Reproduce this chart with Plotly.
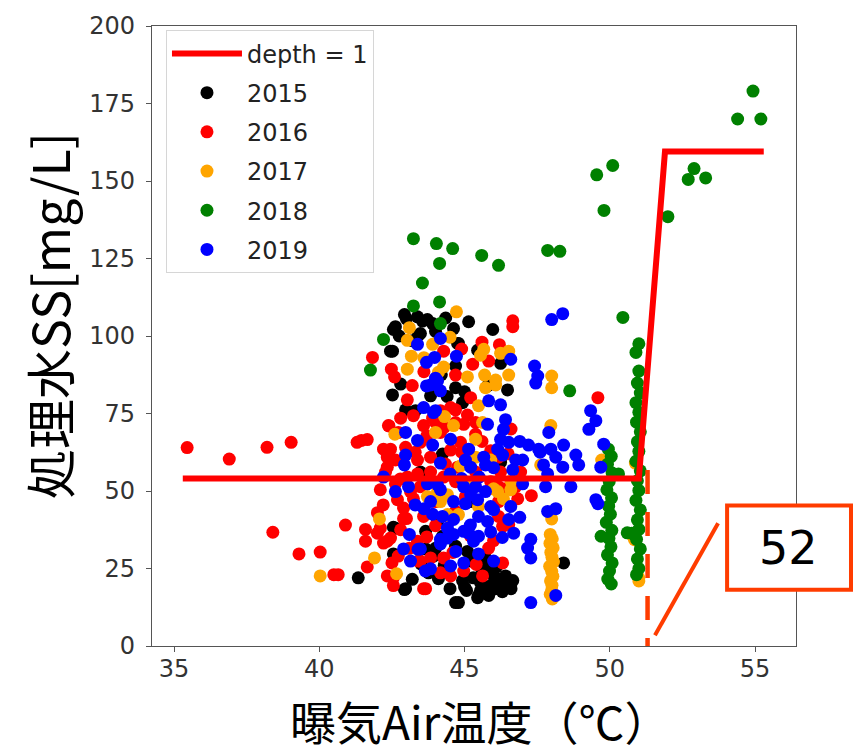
import plotly.graph_objects as go

# ---------------- data ----------------
years = ["2015", "2016", "2017", "2018", "2019"]
year_colors = ["#000000", "#ff0000", "#ffa500", "#008000", "#0000ff"]

pts_2015 = [
    (42.93, 106.9), (43.38, 106.2), (43.72, 105.3), (42.55, 102.1), (42.45, 95.1), (43.48, 100.8),
    (44.62, 102.4), (44.76, 97.6), (42.62, 103.0), (43.41, 100.2), (42.52, 95.1),
    (45.14, 104.6), (45.97, 102.1), (44.79, 97.6), (45.45, 95.4), (44.69, 90.3), (46.24, 91.2),
    (42.52, 81.0), (42.97, 76.2), (43.31, 75.9), (43.83, 80.7), (44.69, 83.3), (44.93, 78.5), (46.48, 82.6),
    (41.34, 22.0), (42.93, 18.2), (42.55, 38.3), (42.62, 38.0), (42.55, 29.7), (42.97, 18.5), (43.66, 37.0),
    (44.07, 40.2), (43.93, 29.0), (43.76, 23.6), (44.10, 21.7), (44.69, 14.0), (44.24, 35.4), (43.66, 31.3),
    (44.69, 32.2), (44.93, 21.1), (45.55, 20.4), (46.00, 22.6), (46.48, 20.1), (46.07, 18.5), (45.48, 16.3),
    (45.83, 16.3), (44.79, 14.0), (48.41, 26.8),
    (45.45, 15.6), (46.14, 21.7), (44.24, 61.9), (46.24, 59.3), (43.48, 56.1), (45.21, 46.6),
    (46.24, 20.1), (46.41, 22.6), (46.66, 21.1), (45.90, 24.2), (45.21, 27.4), (45.72, 25.8), (45.07, 17.9),
    (45.55, 17.9),
    (43.0, 105.5), (43.55, 104.8), (43.9, 104.0), (42.75, 100.0), (43.2, 98.5), (44.35, 105.8), (44.0, 101.5),
    (45.0, 19.0), (45.3, 22.0), (45.6, 24.5), (46.1, 25.5), (46.3, 17.5), (45.9, 19.5), (46.6, 18.5),
    (44.5, 18.5), (43.2, 21.5), (43.5, 26.5), (44.3, 26.0), (44.0, 31.5), (45.1, 30.5), (45.7, 28.8),
    (44.4, 80.5), (45.0, 82.0), (44.2, 87.5), (42.8, 84.5), (45.8, 84.0),
]

pts_2016 = [
    (35.45, 64.0), (36.9, 60.3), (38.2, 64.1), (39.03, 65.7), (38.4, 36.7), (39.3, 29.7), (40.03, 30.3),
    (40.5, 23.0), (40.65, 23.0), (40.9, 39.0), (41.3, 65.7), (41.65, 66.6), (41.65, 25.5), (42.4, 71.0),
    (41.83, 93.1), (42.48, 89.3), (42.59, 86.8), (44.28, 95.1), (44.69, 87.4), (46.66, 104.9), (46.66, 103.0),
    (45.28, 90.9), (45.83, 91.9),
    (43.03, 79.4), (42.38, 71.1), (43.59, 71.1), (41.45, 66.3), (42.21, 63.5), (42.34, 60.9), (42.62, 60.0),
    (43.38, 60.0), (43.83, 60.9), (44.52, 63.2), (42.34, 57.7), (43.38, 55.5), (44.28, 54.5), (43.03, 54.5),
    (43.48, 51.4), (44.76, 57.7), (42.10, 50.4),
    (44.69, 76.2), (44.97, 71.5), (45.38, 68.3), (49.59, 80.1), (46.17, 60.9),
    (42.45, 63.5), (42.79, 53.9), (42.55, 22.0), (43.00, 41.1), (42.34, 33.8), (43.59, 18.5), (43.41, 27.4),
    (43.24, 74.3),
    (41.59, 37.6), (41.59, 33.8), (42.00, 36.4), (42.21, 33.2), (42.10, 38.0), (42.45, 34.8), (42.34, 22.6),
    (42.55, 19.5), (43.66, 18.5), (42.90, 41.1), (42.72, 29.0), (43.38, 33.8), (43.83, 28.4), (44.28, 28.4),
    (44.17, 23.6), (42.69, 47.2), (43.24, 47.5), (43.59, 41.8), (44.52, 22.6), (43.48, 27.4),
    (44.69, 43.4), (45.83, 31.6), (46.31, 26.8), (45.62, 22.6), (44.97, 24.2), (46.31, 38.6),
    (44.17, 68.9), (44.86, 65.7), (45.21, 60.9), (44.69, 53.0), (45.03, 48.2), (44.00, 46.6), (43.14, 49.8),
    (42.62, 52.3), (43.83, 56.1), (44.34, 58.7), (45.38, 56.1), (45.90, 53.0), (46.24, 56.1), (46.41, 50.7),
    (46.76, 51.4), (43.48, 65.7), (42.97, 64.1), (42.28, 56.1), (42.72, 68.9), (44.00, 72.1), (44.52, 76.9),
    (45.21, 80.1), (45.38, 72.1), (44.69, 72.1), (44.17, 75.9), (46.93, 56.1),
    (46.17, 51.4), (46.17, 46.6), (46.17, 41.8), (46.52, 39.2), (46.83, 47.5),
    (42.8, 37.5), (43.1, 31.5), (42.5, 26.8), (43.7, 35.2), (44.0, 38.8), (44.6, 30.2), (45.2, 35.5),
    (45.4, 26.3), (46.0, 34.0), (42.0, 43.0), (42.9, 44.5), (43.3, 62.5), (43.7, 67.8), (44.3, 70.5),
    (44.9, 62.5), (45.6, 66.0), (45.1, 74.5), (43.9, 73.5), (42.8, 73.5), (43.2, 84.0), (43.6, 88.5),
    (44.9, 95.8), (45.6, 98.0), (46.2, 97.2), (45.9, 63.0), (46.5, 62.0), (46.6, 70.0), (47.3, 48.5),
    (42.2, 45.5),
]

pts_2017 = [
    (40.03, 22.6), (42.07, 41.0), (41.90, 28.4), (42.66, 23.3), (42.6, 68.3),
    (44.72, 107.8), (43.10, 102.7), (43.03, 98.6), (43.17, 93.5), (43.03, 89.3), (43.90, 97.3), (44.28, 90.0),
    (45.66, 95.7), (45.55, 93.8), (46.24, 94.4), (46.52, 95.1), (45.10, 86.8), (45.69, 87.4), (46.07, 85.8),
    (46.52, 87.4), (48.00, 87.1),
    (44.31, 74.0), (44.00, 68.9), (44.62, 71.1), (44.41, 48.8), (43.72, 48.2),
    (45.72, 83.3), (46.07, 84.2), (48.00, 83.3), (45.48, 77.5), (45.62, 72.1), (45.38, 66.7), (47.97, 71.1),
    (47.62, 58.4), (45.38, 60.9), (45.90, 60.0), (46.59, 50.4), (46.14, 49.8),
    (44.17, 46.6), (44.52, 40.8), (48.0, 41.0),
    (47.95, 36.0), (48.02, 34.6), (47.94, 33.1), (48.05, 31.7), (47.97, 30.2), (48.01, 28.6), (48.06, 27.1),
    (47.93, 25.7), (48.0, 24.1), (48.04, 22.5), (47.96, 21.0), (48.01, 19.6), (48.0, 18.1), (47.95, 16.7),
    (48.02, 15.2),
    (49.72, 60.0), (50.88, 59.0), (50.85, 34.3), (51.0, 22.0), (51.0, 21.0), (50.8, 35.4),
    (44.79, 42.4), (44.41, 42.4), (46.00, 50.7), (44.07, 49.8), (45.48, 45.0), (46.34, 47.5),
    (44.85, 58.0), (45.1, 52.5), (46.6, 53.2), (43.6, 93.0), (44.5, 99.6), (44.1, 88.3),
]

pts_2018 = [
    (43.24, 131.4), (44.03, 129.8), (44.59, 128.2), (44.14, 123.4), (43.55, 117.1), (45.59, 126.0),
    (46.17, 122.8), (47.86, 127.6), (48.28, 127.3), (43.24, 109.7), (44.14, 111.0), (44.17, 104.0),
    (42.21, 98.9), (41.76, 89.0), (48.62, 82.3), (49.55, 152.0), (50.10, 155.0), (49.80, 140.5),
    (50.45, 106.0), (54.93, 179.0), (54.40, 170.0), (55.20, 170.0), (52.90, 154.0), (52.70, 150.5),
    (53.30, 151.0), (52.00, 138.5),
    (49.95, 63.5), (50.05, 61.2), (49.92, 58.6), (50.08, 55.8), (49.98, 53.1), (50.3, 55.5), (49.9, 50.4),
    (50.06, 47.8), (49.96, 45.1), (50.02, 42.5), (49.88, 39.9), (50.07, 37.3), (49.7, 35.4), (49.97, 34.7),
    (50.04, 32.0), (49.92, 29.4), (50.08, 26.8), (49.99, 24.2), (49.93, 21.6), (50.05, 20.0),
    (51.0, 97.5), (50.9, 94.7), (51.0, 88.7), (50.95, 84.8), (51.05, 81.6), (50.9, 78.5), (51.0, 75.4),
    (50.92, 72.2), (51.05, 69.1), (50.95, 65.9), (51.0, 62.8), (50.9, 59.6), (51.05, 56.5), (50.95, 53.3),
    (51.0, 50.2), (50.9, 47.0), (51.05, 43.9), (50.95, 40.7), (51.0, 37.6), (50.6, 36.5), (50.75, 36.4),
    (50.92, 34.4), (51.05, 31.3), (50.95, 28.1), (51.0, 25.0), (50.92, 23.0),
]

pts_2019 = [
    (43.38, 97.3), (44.17, 99.2), (43.69, 91.5), (43.97, 93.1), (44.72, 93.5), (44.00, 86.4),
    (48.00, 105.3), (48.38, 107.2), (46.59, 92.5), (47.41, 90.3), (47.52, 87.1),
    (43.69, 83.9), (44.07, 85.5), (44.17, 82.3), (43.59, 76.9), (44.00, 75.9), (42.97, 68.9), (43.38, 66.3),
    (43.90, 64.8), (44.52, 66.7), (42.97, 61.6), (42.93, 58.4), (44.17, 59.0), (42.21, 54.5), (43.72, 52.3),
    (42.62, 49.8), (43.07, 51.4), (44.17, 50.4),
    (47.45, 84.8), (45.83, 79.1), (46.24, 77.8), (46.41, 73.0), (45.79, 71.5), (46.34, 69.9), (46.24, 66.7),
    (46.52, 65.7), (46.14, 63.5), (46.31, 61.6), (46.76, 60.0), (47.00, 60.0), (45.14, 63.5), (45.03, 60.0),
    (45.66, 60.9), (45.72, 58.4), (45.21, 57.7), (46.66, 56.8), (47.90, 68.9), (47.97, 63.5), (47.55, 63.5),
    (48.41, 64.8), (48.14, 60.9), (48.83, 61.6), (48.93, 58.4), (47.72, 58.4), (47.86, 55.5), (48.38, 57.7),
    (49.34, 75.9), (49.52, 72.7), (49.28, 69.9), (49.79, 65.1), (49.69, 57.7), (48.66, 51.4), (49.52, 47.2),
    (45.38, 51.4), (45.72, 49.8), (47.79, 51.4), (47.00, 52.3),
    (42.9, 31.3), (43.1, 36.0), (43.4, 31.2), (43.65, 24.2), (43.6, 44.3),
    (43.83, 46.6), (44.17, 34.4), (44.41, 38.0), (44.62, 36.0), (44.52, 25.8), (44.24, 41.8),
    (45.03, 45.9), (46.00, 44.0), (46.59, 45.0), (46.52, 40.8), (46.69, 36.4), (45.48, 41.8), (45.79, 40.2),
    (45.14, 36.4), (45.48, 35.4), (47.28, 34.4), (47.17, 31.6), (47.28, 28.4), (45.48, 29.7), (46.00, 27.4),
    (44.97, 26.8), (47.86, 43.4), (48.14, 44.3), (49.59, 45.9), (48.14, 16.3), (47.28, 14.0),
    (43.83, 84.2), (43.93, 75.3), (44.07, 52.0), (44.97, 51.4), (45.21, 48.8), (45.45, 47.2), (45.90, 45.0),
    (44.62, 46.6), (44.62, 40.8), (44.97, 37.0), (45.31, 33.8), (44.41, 34.8), (44.17, 32.9), (43.48, 31.3),
    (43.14, 27.4), (43.83, 24.9),
    (44.5, 55.5), (44.9, 54.0), (45.5, 54.5), (46.0, 57.5), (43.3, 45.5), (45.2, 39.0), (46.3, 35.0),
    (46.9, 41.5), (45.9, 36.8), (44.7, 30.5), (43.9, 42.5), (47.2, 64.8), (46.9, 66.0), (47.6, 62.5),
]

year_points = [pts_2015, pts_2016, pts_2017, pts_2018, pts_2019]

# decision-tree (depth = 1) prediction line
step_name = "depth = 1"
step_x = [35.3, 51.0, 51.9, 55.3]
step_y = [54.0, 54.0, 159.5, 159.5]

split_value = 51.3          # threshold marked by the dashed line
split_top = 56.8
callout_label = "52"

x_ticks = [35, 40, 45, 50, 55]
y_ticks = [0, 25, 50, 75, 100, 125, 150, 175, 200]
x_title = "曝気Air温度（℃）"
y_title = "処理水SS[mg/L]"

# ---------------- figure ----------------
fig = go.Figure()

for name, color, pts in zip(years, year_colors, year_points):
    fig.add_trace(go.Scatter(
        x=[p[0] for p in pts], y=[p[1] for p in pts],
        mode="markers", name=name, legendgroup=name,
        marker=dict(color=color, size=13, line=dict(width=0)),
    ))

fig.add_trace(go.Scatter(
    x=step_x, y=step_y, mode="lines", name=step_name, legendgroup=step_name,
    legendrank=1, line=dict(color="#ff0000", width=6),
))

accent = "#ff3c00"
fig.add_shape(type="line", xref="x", yref="y", x0=split_value, x1=split_value,
              y0=split_top, y1=-0.6, line=dict(color=accent, width=4.5, dash="24px,18px"))
fig.add_shape(type="line", xref="paper", yref="paper", x0=0.781, y0=0.0175, x1=0.879, y1=0.198,
              line=dict(color=accent, width=4))
fig.add_shape(type="rect", xref="paper", yref="paper", x0=0.893, x1=1.0854, y0=0.0909, y1=0.2265,
              line=dict(color=accent, width=4), fillcolor="white")
fig.add_annotation(xref="paper", yref="paper", x=0.989, y=0.1587, xanchor="center", yanchor="middle",
                   text=callout_label, showarrow=False,
                   font=dict(family="DejaVu Sans", size=46, color="black"))

fig.add_annotation(xref="paper", yref="paper", x=-0.1615, y=0.534, xanchor="center", yanchor="middle",
                   text=y_title, textangle=-90, showarrow=False,
                   font=dict(family="Noto Sans CJK JP", size=50, color="black"))
fig.add_annotation(xref="paper", yref="paper", x=0.509, y=-0.12, xanchor="center", yanchor="middle",
                   text=x_title, showarrow=False,
                   font=dict(family="Noto Sans CJK JP", size=46, color="black"))

axis_common = dict(showline=True, mirror=True, linecolor="#555555", linewidth=1.3,
                   ticks="outside", ticklen=5, tickwidth=1.3, tickcolor="#555555",
                   showgrid=False, zeroline=False,
                   tickfont=dict(family="DejaVu Sans", size=24, color="#333333"))

fig.update_layout(
    width=854, height=747,
    margin=dict(l=152, r=58, t=19, b=101),
    paper_bgcolor="white", plot_bgcolor="white",
    xaxis=dict(range=[34.24, 56.41], tickvals=x_ticks, ticklabelstandoff=-4, **axis_common),
    yaxis=dict(range=[0, 200], tickvals=y_ticks, ticklabelstandoff=6, **axis_common),
    legend=dict(x=0.0217, y=0.993, xanchor="left", yanchor="top",
                bgcolor="white", bordercolor="#d6d6d6", borderwidth=1,
                font=dict(family="DejaVu Sans", size=24, color="#222222"),
                traceorder="grouped", tracegroupgap=5, itemwidth=70),
    showlegend=True,
)

fig.write_html("out.html")
